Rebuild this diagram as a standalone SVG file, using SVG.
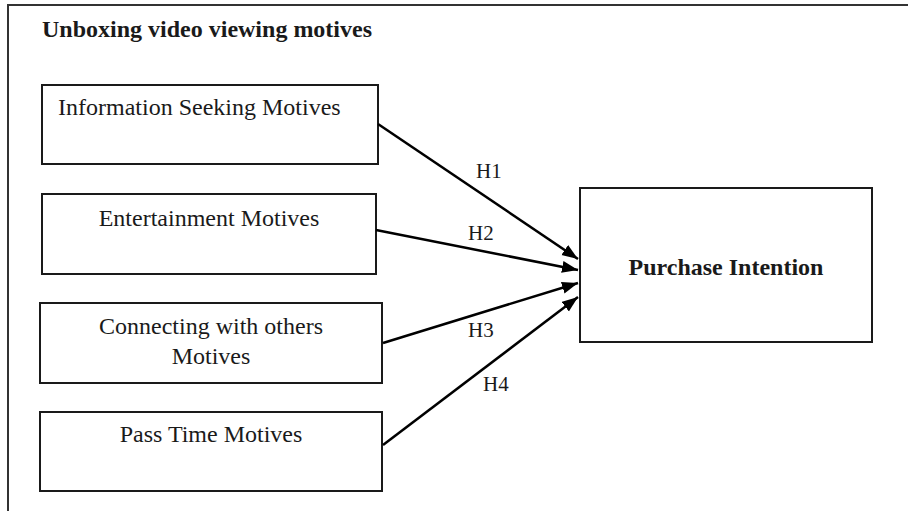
<svg xmlns="http://www.w3.org/2000/svg" width="908" height="511" viewBox="0 0 908 511">
<defs>
<style>
.box{fill:#fff;stroke:#1a1a1a;stroke-width:2}
.t{font-family:"Liberation Serif","Times New Roman",serif;font-size:24px;fill:#1a1a1a}
.b{font-weight:bold}
.h{font-family:"Liberation Serif","Times New Roman",serif;font-size:21px;fill:#1a1a1a}
.c{fill:none;stroke:#000;stroke-width:2.5;marker-end:url(#ah)}
</style>
<marker id="ah" markerUnits="userSpaceOnUse" markerWidth="18" markerHeight="14" refX="16" refY="6" orient="auto">
<path d="M0,0 L16,6 L0,12 z" fill="#000"/>
</marker>
</defs>
<rect width="908" height="511" fill="#fff"/>
<g id="frame">
<path d="M8,511 V5 H908" fill="none" stroke="#333" stroke-width="2"/>
<text class="t b" x="42" y="37">Unboxing video viewing motives</text>
</g>
<g id="n1">
<rect class="box" x="42" y="85" width="336" height="79"/>
<text class="t" x="58" y="115">Information Seeking Motives</text>
</g>
<g id="n2">
<rect class="box" x="42" y="194" width="334" height="80"/>
<text class="t" x="209" y="226" text-anchor="middle">Entertainment Motives</text>
</g>
<g id="n3">
<rect class="box" x="40" y="303" width="342" height="80"/>
<text class="t" x="211" y="334" text-anchor="middle">Connecting with others</text>
<text class="t" x="211" y="364" text-anchor="middle">Motives</text>
</g>
<g id="n4">
<rect class="box" x="40" y="412" width="342" height="79"/>
<text class="t" x="211" y="442" text-anchor="middle">Pass Time Motives</text>
</g>
<g id="n5">
<rect class="box" x="580" y="188" width="292" height="154"/>
<text class="t b" x="726" y="275" text-anchor="middle">Purchase Intention</text>
</g>
<g id="connectors">
<line class="c" x1="378" y1="124" x2="578" y2="259"/>
<line class="c" x1="376" y1="230" x2="578" y2="270"/>
<line class="c" x1="383" y1="343" x2="578" y2="283"/>
<line class="c" x1="383" y1="445" x2="578" y2="297"/>
<text class="h" x="476" y="178">H1</text>
<text class="h" x="468" y="240">H2</text>
<text class="h" x="468" y="337">H3</text>
<text class="h" x="483" y="391">H4</text>
</g>
</svg>
